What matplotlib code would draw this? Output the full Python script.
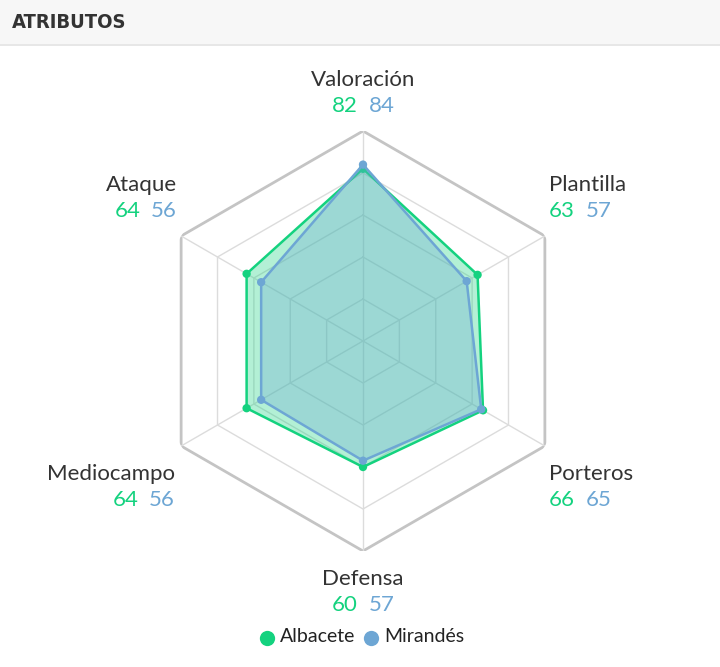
import numpy as np
import matplotlib
matplotlib.use("Agg")
import matplotlib.pyplot as plt
from matplotlib.offsetbox import TextArea, HPacker, VPacker, AnnotationBbox
from matplotlib.patches import Rectangle

categories = ["Valoración", "Plantilla", "Porteros", "Defensa", "Mediocampo", "Ataque"]
albacete = [82, 63, 66, 60, 64, 64]
mirandes = [84, 57, 65, 57, 56, 56]
teams = ["Albacete", "Mirandés"]
ring_levels = [20, 40, 60, 80, 100]

GREEN = "#14d27f"
BLUE = "#6da6d4"
TXT = "#333333"
FONT = "Lato"

W, H = 720, 667
fig = plt.figure(figsize=(W / 100, H / 100), dpi=100)

# header bar
fig.patches.append(Rectangle((0, 1 - 44 / H), 1, 44 / H, transform=fig.transFigure,
                             facecolor="#f7f7f7", edgecolor="none", zorder=0))
fig.lines.append(plt.Line2D([0, 1], [1 - 45 / H, 1 - 45 / H], transform=fig.transFigure,
                            color="#e3e3e3", lw=1.2))
fig.text(12 / W, 1 - 22 / H, "ATRIBUTOS", family="DejaVu Sans", fontstretch="condensed",
         weight="bold", fontsize=14.5, color="#333333", va="center", ha="left")

# polar axes: center (363, 341) px, radius 210 px
cx, cy, R = 363, 341, 210
ax = fig.add_axes([(cx - R) / W, 1 - (cy + R) / H, 2 * R / W, 2 * R / H], projection="polar")
ax.set_theta_zero_location("N")
ax.set_theta_direction(-1)
ax.set_ylim(0, 100)
ax.grid(False)
ax.set_xticks([])
ax.set_yticks([])
ax.spines["polar"].set_visible(False)
ax.patch.set_alpha(0)

n = len(categories)
theta = np.linspace(0, 2 * np.pi, n, endpoint=False)
tc = np.append(theta, theta[0])

for lvl in ring_levels:
    outer = lvl == ring_levels[-1]
    ax.plot(tc, [lvl] * (n + 1), color="#c4c4c4" if outer else "#dcdcdc",
            lw=2.0 if outer else 1.0, zorder=1)
for t in theta:
    ax.plot([t, t], [0, ring_levels[-1]], color="#dcdcdc", lw=1.0, zorder=1)

for vals, col, z in [(albacete, GREEN, 3), (mirandes, BLUE, 4)]:
    v = np.append(vals, vals[0])
    ax.fill(tc, v, color=col, alpha=0.32, zorder=z, lw=0)
    ax.plot(tc, v, color=col, lw=1.8, zorder=z + 0.5)
    ax.scatter(theta, vals, s=36, color=col, zorder=z + 1, edgecolors="none")

# labels: (offset px from outer vertex to box centre, alignment)
label_cfg = [
    ((0, -38), 0.5),
    ((4, -38), 0.0),
    ((4, 41), 0.0),
    ((0, 41), 0.5),
    ((-6, 41), 1.0),
    ((-4, -38), 1.0),
]
for i, (cat, a, m) in enumerate(zip(categories, albacete, mirandes)):
    (dx, dy), halign = label_cfg[i]
    name = TextArea(cat, textprops=dict(family=FONT, fontsize=16, color=TXT))
    nums = HPacker(children=[
        TextArea(str(a), textprops=dict(family=FONT, fontsize=16, color=GREEN)),
        TextArea(str(m), textprops=dict(family=FONT, fontsize=16, color=BLUE)),
    ], pad=0, sep=8, align="baseline")
    box = VPacker(children=[name, nums], pad=0, sep=5,
                  align={0.5: "center", 0.0: "left", 1.0: "right"}[halign])
    ab = AnnotationBbox(box, (theta[i], 100), xybox=(dx * 0.72, -dy * 0.72),
                        xycoords="data", boxcoords="offset points",
                        box_alignment=(halign, 0.5), frameon=False, pad=0,
                        annotation_clip=False)
    ax.add_artist(ab)

# legend
for name, col, x0 in [(teams[0], GREEN, 267), (teams[1], BLUE, 371)]:
    fig.lines.append(plt.Line2D([x0 / W], [1 - 638 / H], transform=fig.transFigure,
                                marker="o", markersize=11, color=col, markeredgewidth=0))
    fig.text((x0 + 13) / W, 1 - 637 / H, name, color="#222222", fontsize=14, ha="left",
             va="center", family=FONT)

fig.savefig("out.png", dpi=100, facecolor="white")
